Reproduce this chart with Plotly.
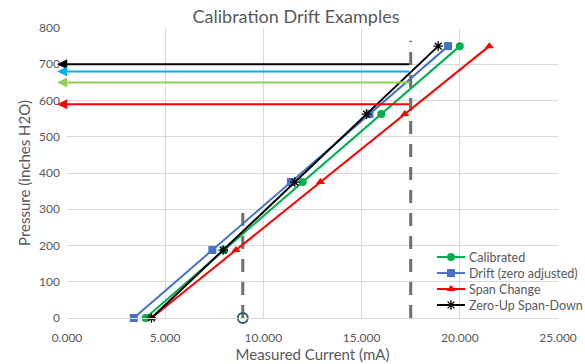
import plotly.graph_objects as go

# Calibration series: measured current (mA) vs pressure (inches H2O)
pressure = [0, 187.5, 375, 562.5, 750]
calibrated_ma = [4.0, 8.0, 12.0, 16.0, 20.0]
drift_ma = [3.4, 7.4, 11.4, 15.4, 19.4]
span_ma = [4.3, 8.6, 12.9, 17.2, 21.5]
zero_up_ma = [4.3, 7.95, 11.6, 15.25, 18.9]

series_names = ["Calibrated", "Drift (zero adjusted)", "Span Change", "Zero-Up Span-Down"]

# Read-back levels at the 17.5 mA reference, drawn as arrows to the pressure axis
readback_levels = [700, 680, 650, 590]
readback_colors = ["#000000", "#00B0F0", "#92D050", "#FF0000"]
readback_from_ma = 17.5
readback_to_ma = -0.5

# Reference current markers (dashed verticals)
ref_high_ma = [17.5, 17.5]
ref_high_p = [0, 765]
ref_low_ma = [8.95, 8.95]
ref_low_p = [0, 295]

x_ticks = [0, 5, 10, 15, 20, 25]
y_ticks = [0, 100, 200, 300, 400, 500, 600, 700, 800]

FONT = "Lato"
GRAY = "#595959"
DASH_COLOR = "#6E7264"

styles = [
    dict(color="#00B050", symbol="circle", size=8, lw=0),
    dict(color="#4472C4", symbol="square", size=8, lw=0),
    dict(color="#FF0000", symbol="triangle-up", size=8, lw=0),
    dict(color="#000000", symbol="asterisk-open", size=8, lw=1.3),
]

fig = go.Figure()

fig.add_trace(go.Scatter(
    x=ref_high_ma, y=ref_high_p, mode="lines", showlegend=False,
    line=dict(color=DASH_COLOR, width=3, dash="13px,10px"), hoverinfo="skip"))
fig.add_trace(go.Scatter(
    x=ref_low_ma, y=ref_low_p, mode="lines", showlegend=False,
    line=dict(color=DASH_COLOR, width=3, dash="13px,10px"), hoverinfo="skip"))
fig.add_trace(go.Scatter(
    x=ref_low_ma[:1], y=ref_low_p[:1], mode="markers", showlegend=False,
    marker=dict(symbol="circle-open", size=10, color="#2E5A6A", line=dict(width=2)),
    cliponaxis=False, hoverinfo="skip"))

for name, xs, st in zip(series_names, [calibrated_ma, drift_ma, span_ma, zero_up_ma], styles):
    fig.add_trace(go.Scatter(
        x=xs, y=pressure, name=name, mode="lines+markers", showlegend=False,
        line=dict(color=st["color"], width=2),
        marker=dict(symbol=st["symbol"], size=st["size"], color=st["color"],
                    line=dict(width=st["lw"], color=st["color"])),
        cliponaxis=False))

for level, color in zip(readback_levels, readback_colors):
    fig.add_annotation(
        x=readback_to_ma, y=level, ax=readback_from_ma, ay=level,
        xref="x", yref="y", axref="x", ayref="y", text="",
        showarrow=True, arrowhead=2, arrowsize=1, arrowwidth=2,
        arrowcolor=color)

# Compact legend drawn on a helper overlay axis (0..1 over the plot area)
leg_x0, leg_x1, leg_text_x = 0.7536, 0.8106, 0.8147
leg_rows = [0.2103, 0.155, 0.100, 0.0448]
for name, st, ry in zip(series_names, styles, leg_rows):
    fig.add_trace(go.Scatter(
        x=[leg_x0, leg_x1], y=[ry, ry], xaxis="x2", yaxis="y2", mode="lines",
        line=dict(color=st["color"], width=2), showlegend=False, hoverinfo="skip"))
    fig.add_trace(go.Scatter(
        x=[(leg_x0 + leg_x1) / 2], y=[ry], xaxis="x2", yaxis="y2", mode="markers",
        marker=dict(symbol=st["symbol"], size=st["size"], color=st["color"],
                    line=dict(width=st["lw"], color=st["color"])),
        showlegend=False, hoverinfo="skip"))
    fig.add_annotation(
        x=leg_text_x, y=ry, xref="x2", yref="y2", text=name, showarrow=False,
        xanchor="left", yanchor="middle", font=dict(size=12.5, color=GRAY, family=FONT))

fig.update_layout(
    width=585, height=364,
    margin=dict(l=67, r=27, t=28, b=46),
    paper_bgcolor="white", plot_bgcolor="white",
    font=dict(family=FONT, color=GRAY, size=12),
    title=dict(text="Calibration Drift Examples", x=0.506, xref="container", xanchor="center",
               y=0.953, yanchor="middle", font=dict(size=18, color=GRAY, family=FONT)),
    showlegend=False,
    xaxis=dict(
        range=[0, 25], tickvals=x_ticks, ticktext=[f"{v:.3f}" for v in x_ticks],
        showgrid=True, gridcolor="#D9D9D9", gridwidth=1,
        showline=True, linecolor="#D9D9D9", mirror=False, zeroline=False,
        ticks="", ticklabelstandoff=9, tickfont=dict(size=12, color=GRAY), automargin=False,
        title=dict(text="Measured Current (mA)", font=dict(size=15, color=GRAY), standoff=4)),
    yaxis=dict(
        range=[0, 800], tickvals=y_ticks,
        showgrid=True, gridcolor="#D9D9D9", gridwidth=1,
        showline=False, zeroline=False,
        ticks="", ticklabelstandoff=6, tickfont=dict(size=12, color=GRAY), automargin=False,
        title=dict(text="Pressure (inches H2O)", font=dict(size=15, color=GRAY), standoff=4)),
    xaxis2=dict(range=[0, 1], overlaying="x", visible=False, fixedrange=True),
    yaxis2=dict(range=[0, 1], overlaying="y", visible=False, fixedrange=True),
)

fig.write_html("out.html")
